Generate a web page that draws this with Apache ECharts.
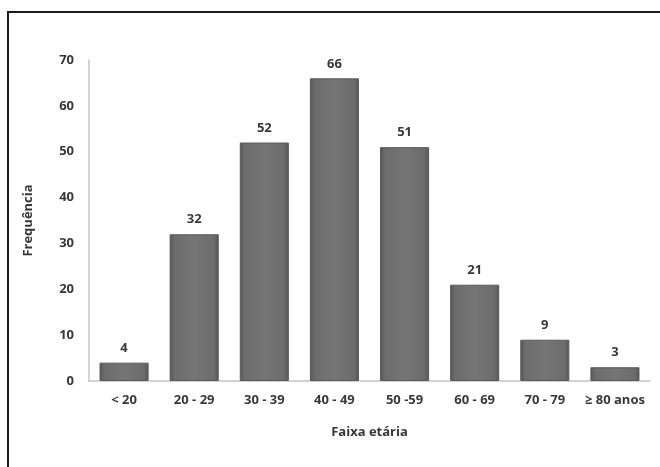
<!DOCTYPE html>
<html>
<head>
<meta charset="utf-8">
<script src="https://cdn.jsdelivr.net/npm/echarts@6/dist/echarts.min.js"></script>
<style>
html,body{margin:0;padding:0;background:#fff;}
#wrap{position:relative;width:660px;height:467px;overflow:hidden;}
#chart{position:absolute;left:0;top:0;width:660px;height:467px;}
#frame{position:absolute;left:7px;top:11px;width:700px;height:500px;border-top:2px solid #1a1a1a;border-left:2px solid #1a1a1a;pointer-events:none;}
</style>
</head>
<body>
<div id="wrap">
<div id="frame"></div>
<div id="chart"></div>
</div>
<script>
const categories = ['< 20', '20 - 29', '30 - 39', '40 - 49', '50 -59', '60 - 69', '70 - 79', '≥ 80 anos'];
const frequencies = [4, 32, 52, 66, 51, 21, 9, 3];
const yTicks = {min: 0, max: 70, interval: 10};

const chart = echarts.init(document.getElementById('chart'));
const font = '"Open Sans", "Liberation Sans", sans-serif';
const txt = {fontFamily: font, fontWeight: 'bold', fontSize: 13, color: '#383838'};
chart.setOption({
  backgroundColor: 'transparent',
  animation: false,
  grid: {left: 89, right: 10, top: 60, bottom: 86, containLabel: false},
  xAxis: {
    type: 'category',
    data: categories,
    name: 'Faixa etária',
    nameLocation: 'middle',
    nameGap: 45,
    nameTextStyle: txt,
    axisLine: {lineStyle: {color: '#c4c4c4', width: 1.5}},
    axisTick: {show: false},
    axisLabel: Object.assign({margin: 13, interval: 0}, txt)
  },
  yAxis: {
    type: 'value',
    min: yTicks.min, max: yTicks.max, interval: yTicks.interval,
    name: 'Frequência',
    nameLocation: 'middle',
    nameGap: 54,
    nameRotate: 90,
    nameTextStyle: txt,
    axisLine: {show: true, lineStyle: {color: '#c4c4c4', width: 1.5}},
    axisTick: {show: false},
    splitLine: {show: false},
    axisLabel: Object.assign({margin: 15}, txt)
  },
  series: [{
    type: 'bar',
    data: frequencies,
    barCategoryGap: '30%',
    itemStyle: {
      color: new echarts.graphic.LinearGradient(0, 0, 1, 0, [
        {offset: 0, color: '#555555'},
        {offset: 0.1, color: '#6c6c6c'},
        {offset: 0.5, color: '#757575'},
        {offset: 0.9, color: '#6c6c6c'},
        {offset: 1, color: '#555555'}
      ]),
      borderColor: '#5a5a5a',
      borderWidth: 1
    },
    label: Object.assign({show: true, position: 'top', distance: 8}, txt)
  }]
});
</script>
</body>
</html>
